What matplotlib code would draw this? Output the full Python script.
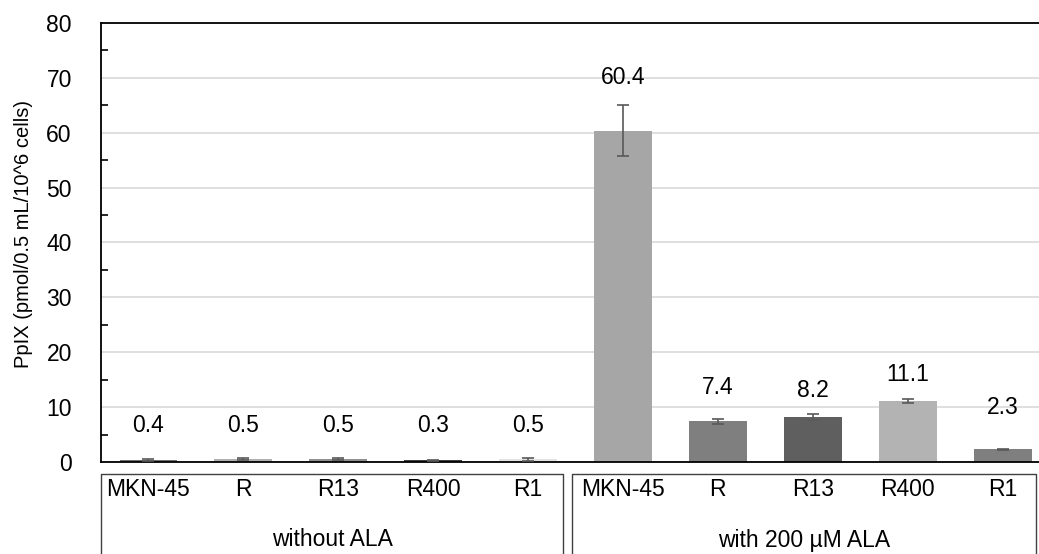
import matplotlib
matplotlib.use('Agg')
import matplotlib.pyplot as plt
from matplotlib.transforms import blended_transform_factory

plt.rcParams['font.family'] = ['Liberation Sans', 'DejaVu Sans']

# data
cells = ['MKN-45', 'R', 'R13', 'R400', 'R1']
groups = ['without ALA', 'with 200 \u00b5M ALA']
values = [0.4, 0.5, 0.5, 0.3, 0.5, 60.4, 7.4, 8.2, 11.1, 2.3]
errors = [0.2, 0.2, 0.15, 0.1, 0.3, 4.65, 0.4, 0.6, 0.4, 0.15]
label_y = [6.7, 6.7, 6.7, 6.7, 6.7, 70.0, 13.5, 13.1, 15.9, 10.0]
colors = ['#6e6e6e', '#b0b0b0', '#909090', '#3f3f3f', '#e3e3e3',
          '#a6a6a6', '#7f7f7f', '#5f5f5f', '#b3b3b3', '#7f7f7f']

FS = 16.5
W, H = 1039, 554
fig = plt.figure(figsize=(W / 100, H / 100), dpi=100)
ax = fig.add_axes([101 / W, 1 - 462 / H, (W - 101) / W, (462 - 23) / H])

x = list(range(len(values)))
ax.bar(x, values, width=0.61, color=colors, zorder=2)
ax.errorbar(x, values, yerr=errors, fmt='none', ecolor='#595959',
            elinewidth=1.2, capsize=4, capthick=1.2, zorder=3)
for xi, v, ly in zip(x, values, label_y):
    ax.text(xi, ly, '%.1f' % v, ha='center', va='center', fontsize=FS)

ax.set_xlim(-0.5, 9.384)
ax.set_ylim(0, 80)
ax.set_yticks(range(0, 81, 10))
ax.set_yticks(range(5, 80, 10), minor=True)
ax.tick_params(axis='y', which='major', length=0, pad=21, labelsize=FS)
ax.tick_params(axis='y', which='minor', direction='in', length=5, width=1.2)
ax.set_xticks([])
ax.yaxis.grid(True, color='#d9d9d9', linewidth=1.2, zorder=0)
ax.set_axisbelow(True)
for s in ['left', 'bottom', 'top']:
    ax.spines[s].set_linewidth(1.3)
    ax.spines[s].set_color('black')
ax.spines['right'].set_visible(False)
ax.set_ylabel('PpIX (pmol/0.5 mL/10^6 cells)', fontsize=14.5)
ax.yaxis.set_label_coords(-0.072, 0.52)

# category labels and group boxes below the axis
tr = blended_transform_factory(ax.transData, ax.transAxes)
ax_h = 462 - 23
def fy(py):
    return (462 - py) / ax_h

for xi, i in zip(x, range(len(x))):
    ax.text(xi, fy(490), cells[i % 5], transform=tr, ha='center', va='center',
            fontsize=FS)
boxes = [(-0.5, 4.37), (4.46, 9.35)]
for (x0, x1), g in zip(boxes, groups):
    ax.plot([x0, x0, x1, x1], [fy(560), fy(474), fy(474), fy(560)], transform=tr,
            color='#404040', linewidth=1.0, clip_on=False)
    ax.text((x0 + x1) / 2, fy(540), g, transform=tr, ha='center', va='center',
            fontsize=FS)

fig.savefig('out.png', dpi=100)
